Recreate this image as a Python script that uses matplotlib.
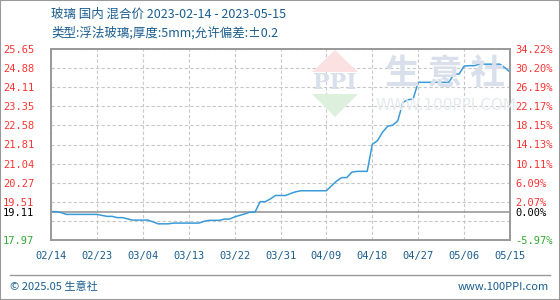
import numpy as np
import pandas as pd
import matplotlib
matplotlib.use("Agg")
import matplotlib.pyplot as plt
from matplotlib.patches import Polygon, Rectangle
from matplotlib.lines import Line2D

plt.rcParams['font.family'] = ['Noto Sans CJK SC', 'DejaVu Sans']

# daily price, 2023-02-14 .. 2023-05-15
dates = pd.date_range("2023-02-14", "2023-05-15", freq="D")
prices = [
    19.11, 19.11, 19.07, 19.00, 19.00, 19.00, 19.00, 19.00, 19.00, 19.00,
    18.96, 18.92, 18.92, 18.87, 18.87, 18.82, 18.77, 18.77, 18.77, 18.77,
    18.70, 18.62, 18.62, 18.62, 18.65, 18.65, 18.65, 18.65, 18.65, 18.65,
    18.72, 18.76, 18.76, 18.76, 18.81, 18.81, 18.90, 18.96, 19.02, 19.09,
    19.09, 19.51, 19.51, 19.62, 19.76, 19.76, 19.76, 19.84, 19.91, 19.95,
    19.95, 19.95, 19.95, 19.95, 19.95, 20.15, 20.34, 20.48, 20.48, 20.70,
    20.73, 20.73, 20.73, 21.82, 21.96, 22.30, 22.54, 22.59, 22.76, 23.51,
    23.61, 23.64, 24.31, 24.31, 24.31, 24.31, 24.31, 24.31, 24.31, 24.64,
    24.64, 24.96, 24.98, 24.98, 25.04, 25.04, 25.04, 25.04, 25.04, 24.90,
    24.72,
]
base = 19.11
y_min, y_max = 17.97, 25.65
x_ticks = ["02/14", "02/23", "03/04", "03/13", "03/22", "03/31",
           "04/09", "04/18", "04/27", "05/06", "05/15"]

title1 = "玻璃 国内 混合价 2023-02-14 - 2023-05-15"
title2 = "类型:浮法玻璃;厚度:5mm;允许偏差:±0.2"

W, H = 560, 300
blue_txt = "#1a5d8f"
red = "#ff3333"
green = "#33aa33"
grid_c = "#c8c8c8"
frame_c = "#999999"


def fx(x):
    return x / W


def fy(y):
    return 1 - y / H


fig = plt.figure(figsize=(W / 100, H / 100), dpi=100)
ax = fig.add_axes([fx(51), fy(240), fx(510) - fx(51), fy(49) - fy(240)])

# watermark
wm = "#d9dfeb"
fig.patches.append(Polygon([(fx(335), fy(50)), (fx(312), fy(72)), (fx(358), fy(72))],
                           closed=True, transform=fig.transFigure,
                           facecolor="#fbe1e1", edgecolor="none", zorder=0))
fig.patches.append(Polygon([(fx(312), fy(94)), (fx(358), fy(94)), (fx(335), fy(117))],
                           closed=True, transform=fig.transFigure,
                           facecolor="#ddf0dd", edgecolor="none", zorder=0))
fig.text(fx(335), fy(83), "PPI", ha="center", va="center", fontsize=16,
         color=wm, family="DejaVu Serif", fontweight="bold", zorder=0)
fig.text(fx(445), fy(73), "生 意 社", ha="center", va="center", fontsize=25,
         color=wm, fontweight="bold", zorder=0)
fig.text(fx(446), fy(106), "WWW.100PPI.COM", ha="center", va="center", fontsize=11,
         color="#e6e9ee", family="DejaVu Sans", zorder=0)
ax.set_facecolor("none")

ax.plot(dates, prices, color="#3a9ad9", linewidth=1.1, zorder=3)

step = (y_max - y_min) / 10
grid_vals = [y_min + k * step for k in range(11)]
ax.set_ylim(y_min, y_max)
ax.set_xlim(dates[0], dates[-1])

tick_dates = pd.date_range(dates[0], dates[-1], freq="9D")
for d in tick_dates:
    ax.axvline(d, color=grid_c, linestyle=(0, (3, 2)), linewidth=0.8, zorder=1)
for v in grid_vals:
    ax.axhline(v, color=grid_c, linestyle=(0, (3, 2)), linewidth=0.8, zorder=1)
ax.axhline(base, color=frame_c, linewidth=1.2, zorder=2)

ax.set_xticks(tick_dates)
ax.set_xticklabels(x_ticks)
ax.tick_params(axis="x", length=0, pad=8, labelsize=7.5, labelcolor=blue_txt)
for lab in ax.get_xticklabels():
    lab.set_family("DejaVu Sans Mono")

left_vals = grid_vals[2:] + [base, y_min]
ax.set_yticks(left_vals)
ax.set_yticklabels([f"{v:.2f}" for v in left_vals])
ax.tick_params(axis="y", length=0, pad=12, labelsize=7.5)
for v, lab in zip(left_vals, ax.get_yticklabels()):
    lab.set_family("DejaVu Sans Mono")
    lab.set_color("black" if v == base else (green if v < base else red))

ax2 = ax.twinx()
ax2.set_ylim(y_min, y_max)
ax2.set_yticks(left_vals)
ax2.set_yticklabels([f"{(v / base - 1) * 100:.2f}%" for v in left_vals])
ax2.tick_params(axis="y", length=0, pad=4, labelsize=7.5)
for v, lab in zip(left_vals, ax2.get_yticklabels()):
    lab.set_family("DejaVu Sans Mono")
    lab.set_color("black" if v == base else (green if v < base else red))

for a in (ax, ax2):
    for s in a.spines.values():
        s.set_color(frame_c)
        s.set_linewidth(1.2)

fig.text(fx(51), fy(14), title1, ha="left", va="center", fontsize=9, color=blue_txt)
fig.text(fx(51), fy(33), title2, ha="left", va="center", fontsize=9, color=blue_txt)

fig.lines.append(Line2D([fx(10), fx(550)], [fy(275), fy(275)],
                        transform=fig.transFigure, color=frame_c, linewidth=1))
fig.text(fx(10), fy(287), "© 2025.05 生意社", ha="left", va="center",
         fontsize=8, color=blue_txt)
fig.text(fx(549), fy(287), "www.100PPI.com", ha="right", va="center",
         fontsize=8, color=blue_txt)
fig.patches.append(Rectangle((0, 0), 1, 1, transform=fig.transFigure, fill=False,
                             edgecolor=frame_c, linewidth=1.5))

fig.savefig("out.png", dpi=100)
